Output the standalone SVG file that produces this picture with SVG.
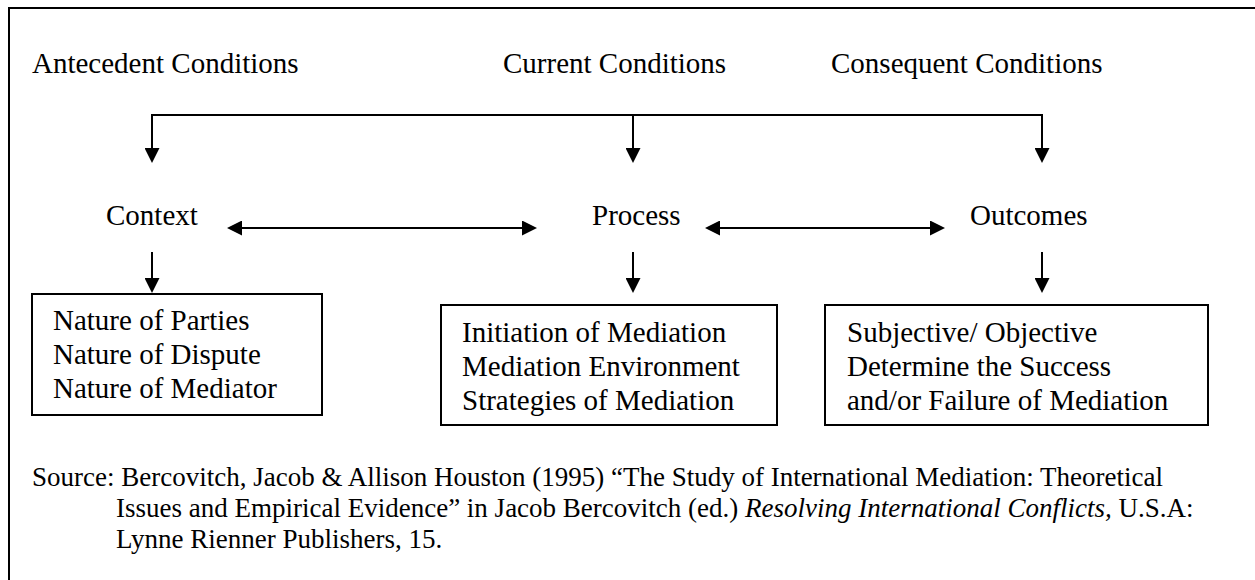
<svg xmlns="http://www.w3.org/2000/svg" width="1255" height="580" viewBox="0 0 1255 580">
<style>
text{font-family:"Liberation Serif","Times New Roman",serif;fill:#000}
.lbl{font-size:29px}
.src{font-size:27px}
.box{fill:#fff;stroke:#000;stroke-width:2}
.ln{stroke:#000;stroke-width:2;fill:none}
</style>
<defs>
<marker id="ah" viewBox="0 0 15 15" refX="0" refY="7.5" markerWidth="15" markerHeight="15" markerUnits="userSpaceOnUse" orient="auto-start-reverse">
<path d="M0,0 L15,7.5 L0,15 z" fill="#000"/>
</marker>
</defs>
<rect x="9" y="8" width="1300" height="620" fill="#fff" stroke="#000" stroke-width="2"/>
<g id="antecedent"><text class="lbl" x="32" y="73">Antecedent Conditions</text></g>
<g id="current"><text class="lbl" x="503" y="73">Current Conditions</text></g>
<g id="consequent"><text class="lbl" x="831" y="73">Consequent Conditions</text></g>
<g id="context"><text class="lbl" x="106" y="225">Context</text></g>
<g id="process"><text class="lbl" x="592" y="225">Process</text></g>
<g id="outcomes"><text class="lbl" x="970" y="225">Outcomes</text></g>
<g id="context-box">
<rect class="box" x="32" y="294" width="290" height="121"/>
<text class="lbl" x="53" y="330">Nature of Parties</text>
<text class="lbl" x="53" y="364">Nature of Dispute</text>
<text class="lbl" x="53" y="398">Nature of Mediator</text>
</g>
<g id="process-box">
<rect class="box" x="441" y="305" width="336" height="120"/>
<text class="lbl" x="462" y="342">Initiation of Mediation</text>
<text class="lbl" x="462" y="376">Mediation Environment</text>
<text class="lbl" x="462" y="410">Strategies of Mediation</text>
</g>
<g id="outcomes-box">
<rect class="box" x="825" y="305" width="383" height="120"/>
<text class="lbl" x="847" y="342">Subjective/ Objective</text>
<text class="lbl" x="847" y="376">Determine the Success</text>
<text class="lbl" x="847" y="410">and/or Failure of Mediation</text>
</g>
<g id="connectors">
<path class="ln" d="M152,115 H1042"/>
<path class="ln" d="M152,114 V148" marker-end="url(#ah)"/>
<path class="ln" d="M633,115 V148" marker-end="url(#ah)"/>
<path class="ln" d="M1042,114 V148" marker-end="url(#ah)"/>
<path class="ln" d="M242,228 H522" marker-start="url(#ah)" marker-end="url(#ah)"/>
<path class="ln" d="M720,228 H930" marker-start="url(#ah)" marker-end="url(#ah)"/>
<path class="ln" d="M152,252 V278" marker-end="url(#ah)"/>
<path class="ln" d="M633,252 V278" marker-end="url(#ah)"/>
<path class="ln" d="M1042,252 V278" marker-end="url(#ah)"/>
</g>
<g id="source">
<text class="src" x="32" y="486">Source: Bercovitch, Jacob &amp; Allison Houston (1995) “The Study of International Mediation: Theoretical</text>
<text class="src" x="116" y="517">Issues and Empirical Evidence” in Jacob Bercovitch (ed.) <tspan font-style="italic">Resolving International Conflicts,</tspan> U.S.A:</text>
<text class="src" x="116" y="548">Lynne Rienner Publishers, 15.</text>
</g>
</svg>
